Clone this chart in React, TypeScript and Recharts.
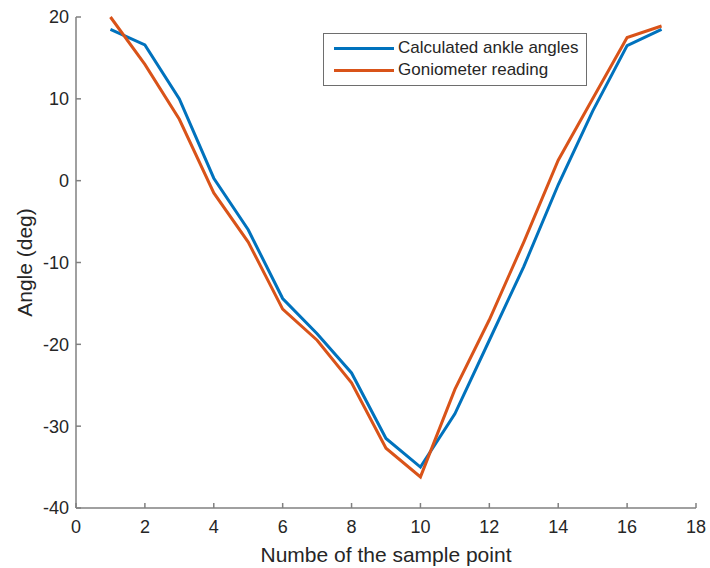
import { LineChart, Line, XAxis, YAxis, Legend } from "recharts";

const sampleNo = [1, 2, 3, 4, 5, 6, 7, 8, 9, 10, 11, 12, 13, 14, 15, 16, 17];
const calculated = [18.5, 16.6, 10, 0.3, -6, -14.4, -18.7, -23.5, -31.5, -35, -28.5, -19.5, -10.5, -0.5, 8.5, 16.5, 18.5];
const goniometer = [20, 14.2, 7.5, -1.5, -7.5, -15.7, -19.5, -24.7, -32.7, -36.2, -25.5, -17, -7.5, 2.5, 10, 17.5, 18.9];
const xTicks = [0, 2, 4, 6, 8, 10, 12, 14, 16, 18];
const yTicks = [-40, -30, -20, -10, 0, 10, 20];

const BLUE = "#0072BD";
const ORANGE = "#D95319";
const AXIS = "#808080";
const TEXT = "#262626";
const FONT = "'Liberation Sans', Arial, sans-serif";

const data = sampleNo.map((x, i) => ({
  x,
  calc: calculated[i],
  gonio: goniometer[i],
}));

function LegendBox({ payload }: any) {
  return (
    <div
      style={{
        width: 262,
        height: 48,
        border: "1px solid #6e6e6e",
        background: "#fff",
        boxSizing: "content-box",
        fontFamily: FONT,
        fontSize: 17,
        color: TEXT,
        paddingTop: 3,
      }}
    >
      {(payload || []).map((p: any) => (
        <div key={p.value} style={{ display: "flex", alignItems: "center", height: 22 }}>
          <span
            style={{
              display: "inline-block",
              width: 60,
              height: 3,
              marginLeft: 10,
              marginRight: 4,
              background: p.color,
            }}
          />
          <span>{p.value}</span>
        </div>
      ))}
    </div>
  );
}

export default function App() {
  return (
    <div style={{ position: "absolute", left: 0, top: 0, background: "#fff" }}>
      <LineChart
        width={710}
        height={568}
        data={data}
        margin={{ top: 17, right: 14, bottom: 0, left: 0 }}
      >
        <XAxis
          dataKey="x"
          type="number"
          domain={[0, 18]}
          ticks={xTicks}
          height={60}
          stroke={AXIS}
          strokeWidth={1.5}
          tickSize={-5}
          tickMargin={17}
          tick={{ fill: TEXT, fontSize: 18, fontFamily: FONT }}
          label={{
            value: "Numbe of the sample point",
            position: "insideBottom",
            offset: 6,
            fill: TEXT,
            fontSize: 21,
            fontFamily: FONT,
          }}
        />
        <XAxis
          xAxisId="top"
          orientation="top"
          type="number"
          domain={[0, 18]}
          ticks={xTicks}
          height={0}
          stroke={AXIS}
          strokeWidth={1.5}
          tickSize={-5}
          tick={false}
        />
        <YAxis
          type="number"
          domain={[-40, 20]}
          ticks={yTicks}
          width={76}
          stroke={AXIS}
          strokeWidth={1.5}
          tickSize={-5}
          tickMargin={12}
          tick={{ fill: TEXT, fontSize: 18, fontFamily: FONT }}
          label={{
            value: "Angle (deg)",
            angle: -90,
            position: "center",
            dx: -13,
            fill: TEXT,
            fontSize: 21,
            fontFamily: FONT,
          }}
        />
        <YAxis
          yAxisId="right"
          orientation="right"
          type="number"
          domain={[-40, 20]}
          ticks={yTicks}
          width={0}
          stroke={AXIS}
          strokeWidth={1.5}
          tickSize={-5}
          tick={false}
        />
        <Legend
          layout="vertical"
          align="center"
          verticalAlign="middle"
          content={<LegendBox />}
          wrapperStyle={{ position: "absolute", left: 323, top: 33, width: "auto" }}
        />
        <Line
          type="linear"
          dataKey="calc"
          name="Calculated ankle angles"
          stroke={BLUE}
          strokeWidth={3}
          dot={false}
          isAnimationActive={false}
        />
        <Line
          type="linear"
          dataKey="gonio"
          name="Goniometer reading"
          stroke={ORANGE}
          strokeWidth={3}
          dot={false}
          isAnimationActive={false}
        />
      </LineChart>
    </div>
  );
}
